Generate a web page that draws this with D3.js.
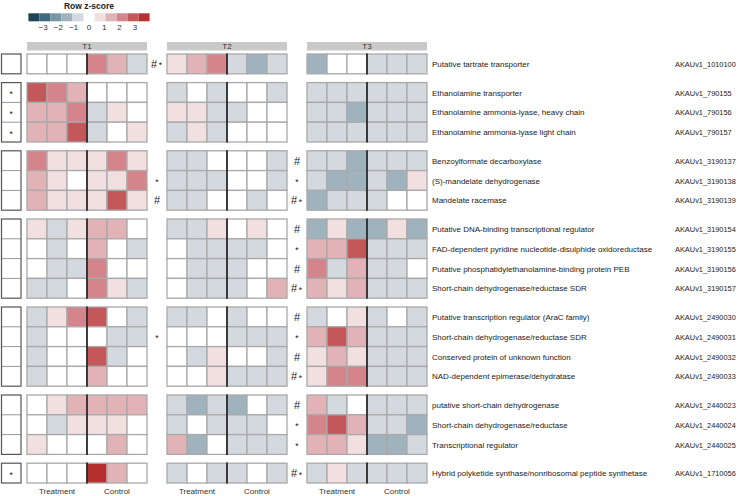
<!DOCTYPE html>
<html><head><meta charset="utf-8">
<script src="https://cdn.jsdelivr.net/npm/d3@7/dist/d3.min.js"></script>
<style>body{margin:0;background:#fff}svg{display:block;font-family:"Liberation Sans",Arial,sans-serif}</style>
</head><body><svg id="c" width="739" height="496"></svg>
<script>
// ---------- data ----------
const panels = ["T1", "T2", "T3"];
const conditions = ["Treatment", "Control"];
const groupSizes = [1, 3, 3, 4, 4, 3, 1];
const genes = [
  "Putative tartrate transporter",
  "Ethanolamine transporter",
  "Ethanolamine ammonia-lyase, heavy chain",
  "Ethanolamine ammonia-lyase light chain",
  "Benzoylformate decarboxylase",
  "(S)-mandelate dehydrogenase",
  "Mandelate racemase",
  "Putative DNA-binding transcriptional regulator",
  "FAD-dependent pyridine nucleotide-disulphide oxidoreductase",
  "Putative phosphatidylethanolamine-binding protein PEB",
  "Short-chain dehydrogenase/reductase SDR",
  "Putative transcription regulator (AraC family)",
  "Short-chain dehydrogenase/reductase SDR",
  "Conserved protein of unknown function",
  "NAD-dependent epimerase/dehydratase",
  "putative short-chain dehydrogenase",
  "Short-chain dehydrogenase/reductase",
  "Transcriptional regulator",
  "Hybrid polyketide synthase/nonribosomal peptide synthetase"
];
const geneIds = [
  "AKAUv1_1010100",
  "AKAUv1_790155", "AKAUv1_790156", "AKAUv1_790157",
  "AKAUv1_3190137", "AKAUv1_3190138", "AKAUv1_3190139",
  "AKAUv1_3190154", "AKAUv1_3190155", "AKAUv1_3190156", "AKAUv1_3190157",
  "AKAUv1_2490030", "AKAUv1_2490031", "AKAUv1_2490032", "AKAUv1_2490033",
  "AKAUv1_2440023", "AKAUv1_2440024", "AKAUv1_2440025",
  "AKAUv1_1710056"
];
// row z-scores, 3 treatment + 3 control replicates per panel (estimated)
const zT1 = [
  [0, 0, 0, 2.1, 1.4, -0.7],
  [2.8, 2.1, 1.4, 0, 0, 0],
  [1.4, 1.4, 2.1, -0.7, 0.7, 0],
  [1.4, 1.4, 2.8, -0.7, 0, 0.7],
  [2.1, 0.7, 0.7, 0.7, 2.1, 0.7],
  [1.4, 0.7, 0, 0.7, 0.7, 2.1],
  [1.4, 0.7, 0.7, 0.7, 2.8, 0.7],
  [0.7, -0.7, 0.7, 1.4, 1.4, 0],
  [0, -0.7, 0, 1.4, 0, -0.7],
  [0, -0.7, -0.7, 2.1, 0, 0],
  [-0.7, -0.7, 0, 2.1, 0.7, -0.7],
  [-0.7, 0.7, 2.1, 2.8, 0, -0.7],
  [-0.7, 0, 0, 0, -0.7, -0.7],
  [-0.7, 0, 0, 2.8, -0.7, 0],
  [-0.7, 0, 0, 1.4, 0, 0],
  [0, 0.7, 1.4, 1.4, 1.4, 1.4],
  [0, -0.7, 0.7, 0.7, 0.7, 0],
  [0.7, 0, 0, 0, 1.4, 0],
  [0, 0, 0, 3.5, 1.4, 0]
];
const zT2 = [
  [0.7, 1.4, 2.1, -0.7, -1.5, -0.7],
  [-0.7, 0, -0.7, 0, 0, -0.7],
  [0.7, 0.7, -0.7, -0.7, 0, 0],
  [-0.7, 0.7, -0.7, 0, 0, 0],
  [-0.7, -0.7, 0, 0, 0, -0.7],
  [-0.7, -0.7, -0.7, 0, 0, -0.7],
  [-0.7, -0.7, 0, 0, -0.7, 0],
  [-0.7, -0.7, 0.7, 0, 0.7, 0],
  [0, -0.7, -0.7, -0.7, -0.7, 0],
  [0, -0.7, -0.7, -0.7, 0, 0],
  [0, -0.7, -0.7, -0.7, 0, 1.4],
  [-0.7, -0.7, 0, -0.7, 0, 0],
  [0, 0, 0, -0.7, -0.7, -0.7],
  [0, -0.7, 0.7, 0, 0, -0.7],
  [0, 0, 0.7, -0.7, -0.7, -0.7],
  [-0.7, -1.5, -0.7, -1.5, 0, -0.7],
  [-0.7, 0, -0.7, -0.7, -0.7, 0],
  [1.4, -1.5, 0, -0.7, -0.7, -0.7],
  [-0.7, 0, -0.7, -0.7, 0, -0.7]
];
const zT3 = [
  [-1.5, 0, 0, -0.7, -0.7, -0.7],
  [-0.7, -0.7, -0.7, -0.7, -0.7, -0.7],
  [-0.7, -0.7, -1.5, -0.7, -0.7, -0.7],
  [-0.7, -0.7, -0.7, -0.7, -0.7, -0.7],
  [-0.7, -0.7, -1.5, -0.7, -0.7, -0.7],
  [-0.7, -1.5, -1.5, -0.7, -1.5, 0.7],
  [-1.5, -0.7, -0.7, -0.7, 0, 0],
  [-1.5, 0.7, -1.5, -1.5, 0.7, -1.5],
  [1.4, 1.4, 2.8, -0.7, -0.7, -0.7],
  [2.1, -0.7, 1.4, -0.7, -0.7, 0],
  [1.4, 0.7, 1.4, -0.7, -0.7, -0.7],
  [-0.7, 0, 0.7, -0.7, 0, -0.7],
  [1.4, 2.8, 1.4, -0.7, -0.7, -0.7],
  [0.7, 1.4, 0.7, -0.7, -0.7, -0.7],
  [0.7, 2.1, 2.1, -0.7, -0.7, -0.7],
  [1.4, -0.7, 0, -0.7, -0.7, -0.7],
  [2.1, 2.8, 1.4, -0.7, -0.7, -1.5],
  [1.4, 1.4, 0.7, -1.5, -1.5, -0.7],
  [-0.7, 0.7, -0.7, -0.7, -0.7, -0.7]
];
const leftMarks = ["", "*", "*", "*", "", "", "", "", "", "", "", "", "", "", "", "", "", "", "*"];
const marksT1T2 = ["#*", "", "", "", "", "*", "#", "", "", "", "", "", "*", "", "", "", "", "", ""];
const marksT2T3 = ["", "", "", "", "#", "*", "#*", "#", "*", "#", "#*", "#", "*", "#", "#*", "#", "*", "*", "#*"];
const legendTicks = [-3, -2, -1, 0, 1, 2, 3];
const legendBreaks = [-3.24, -2.52, -1.8, -1.08, -0.36, 0.36, 1.08, 1.8, 2.52, 3.24];
const legendColors = ["#1e4356", "#3e6980", "#7796a6", "#9fb3be", "#d4d9df", "#ffffff",
                      "#f2dfe0", "#e2b3b6", "#d4858b", "#c4575a", "#b5302e"];

// ---------- layout ----------
const svg = d3.select("#c");
const zAll = [zT1, zT2, zT3];
const nRows = genes.length;
const rowGroup = [];
groupSizes.forEach((n, g) => { for (let i = 0; i < n; i++) rowGroup.push(g); });
const rowH = 19.8, gap = 8.8, topY = 54;
const rowBand = d3.scaleBand().domain(d3.range(nRows)).range([topY, topY + nRows * rowH]);
const gapScale = d3.scaleLinear().domain([0, groupSizes.length - 1]).range([0, (groupSizes.length - 1) * gap]);
const yRow = i => rowBand(i) + gapScale(rowGroup[i]);
const panelX = d3.scaleBand().domain(panels).range([27, 427]).paddingInner(1 / 7);
const colX = d3.scaleBand().domain(d3.range(6)).range([0, panelX.bandwidth()]);
const color = d3.scaleThreshold().domain(legendBreaks).range(legendColors);

const groupsInfo = [];
let s = 0;
groupSizes.forEach(n => { groupsInfo.push({start: s, n}); s += n; });

// ---------- legend ----------
const lx = d3.scaleLinear().domain([0, 1]).range([89, 89 + 15.3]);
const lg = svg.append("g");
lg.append("text").attr("x", 89).attr("y", 8.5).attr("text-anchor", "middle")
  .attr("font-size", 8.5).attr("font-weight", "bold").attr("fill", "#222").text("Row z-score");
const edges = [-3.96].concat(legendBreaks, [3.96]);
legendColors.forEach((c, i) => {
  if (c === "#ffffff") return;
  lg.append("rect").attr("x", lx(edges[i])).attr("y", 13.3)
    .attr("width", lx(edges[i + 1]) - lx(edges[i])).attr("height", 8).attr("fill", c);
});
lg.selectAll("text.tk").data(legendTicks).join("text").attr("class", "tk")
  .attr("x", d => lx(d)).attr("y", 30).attr("text-anchor", "middle")
  .attr("font-size", 8).attr("fill", "#333").text(d => d < 0 ? "\u2212" + Math.abs(d) : d);

// ---------- strips ----------
panels.forEach(p => {
  svg.append("rect").attr("x", panelX(p)).attr("y", 42).attr("width", panelX.bandwidth())
    .attr("height", 8.5).attr("fill", "#c9c9c9");
  svg.append("text").attr("x", panelX(p) + panelX.bandwidth() / 2).attr("y", 49.3)
    .attr("text-anchor", "middle").attr("font-size", 8).attr("fill", "#333").text(p);
});

// ---------- heatmap cells ----------
panels.forEach((p, pi) => {
  const g = svg.append("g").attr("transform", `translate(${panelX(p)},0)`);
  const cells = [];
  zAll[pi].forEach((row, r) => row.forEach((v, c) => cells.push({r, c, v})));
  g.selectAll("rect.cell").data(cells).join("rect").attr("class", "cell")
    .attr("x", d => colX(d.c)).attr("y", d => yRow(d.r))
    .attr("width", colX.bandwidth()).attr("height", rowBand.bandwidth())
    .attr("fill", d => color(d.v)).attr("stroke", "#a9a9a9").attr("stroke-width", 1.3);
  groupsInfo.forEach(gi => {
    g.append("line").attr("x1", colX(3)).attr("x2", colX(3))
      .attr("y1", yRow(gi.start) - 0.6).attr("y2", yRow(gi.start) + gi.n * rowH + 0.6)
      .attr("stroke", "#111").attr("stroke-width", 1.5);
  });
  conditions.forEach((cn, ci) => {
    g.append("text").attr("x", colX(ci * 3) + colX.bandwidth() * 1.5).attr("y", 494)
      .attr("text-anchor", "middle").attr("font-size", 8).attr("fill", "#333").text(cn);
  });
});

// ---------- left annotation boxes ----------
const lbx = 1.5, lbw = 19.5;
groupsInfo.forEach(gi => {
  for (let i = 0; i < gi.n - 1; i++) {
    const yy = yRow(gi.start + i + 1);
    svg.append("line").attr("x1", lbx).attr("x2", lbx + lbw).attr("y1", yy).attr("y2", yy)
      .attr("stroke", "#9a9a9a").attr("stroke-width", 1);
  }
  svg.append("rect").attr("x", lbx).attr("y", yRow(gi.start)).attr("width", lbw)
    .attr("height", gi.n * rowH).attr("fill", "none").attr("stroke", "#555").attr("stroke-width", 1.2);
});

// ---------- marks ----------
function drawMark(str, cx, r) {
  const cy = yRow(r) + rowH / 2;
  if (!str) return;
  if (str === "*") {
    svg.append("text").attr("x", cx).attr("y", cy + 4.5).attr("text-anchor", "middle")
      .attr("font-size", 8.5).attr("fill", "#222").text("*");
  } else if (str === "#") {
    svg.append("text").attr("x", cx).attr("y", cy + 4).attr("text-anchor", "middle")
      .attr("font-size", 11).attr("fill", "#222").text("#");
  } else {
    svg.append("text").attr("x", cx - 3).attr("y", cy + 4).attr("text-anchor", "middle")
      .attr("font-size", 11).attr("fill", "#222").text("#");
    svg.append("text").attr("x", cx + 3.5).attr("y", cy + 4.5).attr("text-anchor", "middle")
      .attr("font-size", 8.5).attr("fill", "#222").text("*");
  }
}
d3.range(nRows).forEach(r => {
  drawMark(leftMarks[r], lbx + lbw / 2, r);
  drawMark(marksT1T2[r], 157, r);
  drawMark(marksT2T3[r], 297, r);
});

// ---------- row labels ----------
svg.selectAll("text.gene").data(genes).join("text").attr("class", "gene")
  .attr("x", 432).attr("y", (d, i) => yRow(i) + rowH / 2 + 3)
  .attr("font-size", 8).attr("fill", "#222").text(d => d);
svg.selectAll("text.gid").data(geneIds).join("text").attr("class", "gid")
  .attr("x", 675).attr("y", (d, i) => yRow(i) + rowH / 2 + 3)
  .attr("font-size", 7.4).attr("fill", "#222").text(d => d);
</script></body></html>
